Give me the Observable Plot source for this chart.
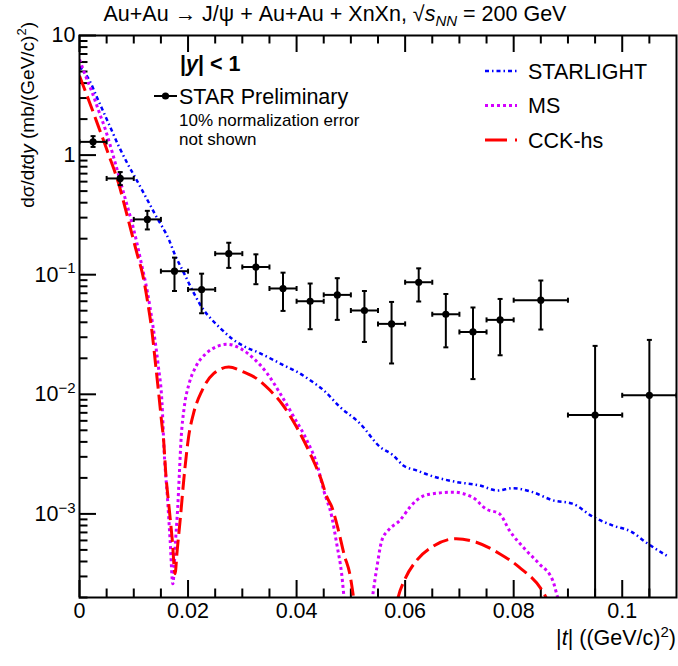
<!DOCTYPE html>
<html><head><meta charset="utf-8">
<script src="https://cdn.jsdelivr.net/npm/d3@7"></script>
<script src="https://cdn.jsdelivr.net/npm/@observablehq/plot@0.6"></script>
<style>
body{margin:0;background:#fff;}
#chart{width:678px;height:666px;}
</style></head><body><div id="chart"></div>
<script>
// ---------- data ----------
// STAR Preliminary points
const starT  = [0.0025,0.0075,0.0125,0.0175,0.0225,0.0275,0.0325,0.0375,0.0425,0.0475,0.0525,0.0575,0.0625,0.0675,0.0725,0.0775,0.085,0.095,0.105];
const starV  = [1.29,0.638,0.29,0.107,0.0752,0.150,0.116,0.0767,0.060,0.0678,0.0502,0.0388,0.0865,0.0467,0.0332,0.0419,0.0612,0.00671,0.00981];
const starHi = [1.44,0.721,0.342,0.139,0.102,0.185,0.148,0.104,0.0844,0.0935,0.0731,0.0592,0.113,0.069,0.0532,0.0627,0.0894,0.0254,0.0285];
const starLo = [1.17,0.561,0.239,0.0731,0.0476,0.114,0.0833,0.0498,0.035,0.0419,0.0274,0.0181,0.0597,0.0247,0.0134,0.0212,0.0348,1e-5,1e-5];
const starDt = [0.0025,0.0025,0.0025,0.0025,0.0025,0.0025,0.0025,0.0025,0.0025,0.0025,0.0025,0.0025,0.0025,0.0025,0.0025,0.0025,0.005,0.005,0.005];

// STARLIGHT curve
const slT = [0,0.0018,0.0033,0.0055,0.0073,0.0090,0.0102,0.0122,0.0140,0.0165,0.0175,0.0193,0.0211,0.0229,0.0242,0.0260,0.0281,0.0303,0.0327,0.0358,0.0376,0.0401,0.0425,0.0450,0.0480,0.0517,0.0554,0.0578,0.0596,0.0621,0.0651,0.0694,0.0737,0.0771,0.0798,0.0835,0.0872,0.0908,0.0945,0.0982,0.1018,0.1043,0.1086];
const slV = [5.5,4.24,2.98,1.78,1.17,0.824,0.658,0.448,0.315,0.195,0.150,0.102,0.0697,0.0505,0.043,0.0355,0.0292,0.0252,0.0226,0.0193,0.0175,0.0154,0.0131,0.0108,0.00783,0.00569,0.00362,0.00309,0.00255,0.00231,0.00206,0.00185,0.00173,0.00157,0.00164,0.00152,0.0013,0.00122,0.000953,0.000801,0.000705,0.000581,0.000436];

// MS curve
const msT = [0,0.0012,0.0024,0.0036,0.0048,0.0061,0.0073,0.0085,0.0097,0.0106,0.0113,0.0125,0.0135,0.0145,0.0152,0.0156,0.0162,0.0167,0.0172,0.0177,0.0181,0.0184,0.0187,0.0193,0.0202,0.0214,0.0233,0.0254,0.0272,0.0297,0.0321,0.0346,0.0370,0.0395,0.0419,0.0439,0.0450,0.0465,0.0474,0.0483,0.0490,0.0515,0.0535,0.0548,0.0557,0.0569,0.0590,0.0609,0.0621,0.0645,0.0688,0.0725,0.0749,0.0774,0.0792,0.0823,0.0847,0.0872,0.0881,0.0895];
const msV = [6.3,4.5,3.28,2.30,1.62,1.03,0.658,0.42,0.268,0.182,0.13,0.072,0.038,0.0175,0.0085,0.0033,0.00138,0.0006,0.00026,0.0006,0.00114,0.00217,0.0041,0.0078,0.0123,0.0169,0.0219,0.0252,0.0262,0.0241,0.0199,0.0149,0.0101,0.00646,0.00412,0.00247,0.00157,0.00094,0.00056,0.000316,0.00015,0.00003,0.00014,0.000359,0.0006,0.00073,0.00088,0.00114,0.0013,0.00146,0.00152,0.00137,0.0011,0.0010,0.00073,0.000495,0.000383,0.000277,0.0002,0.00012];

// CCK-hs curve
const cckT = [0,0.0017,0.0035,0.0053,0.0072,0.0090,0.0106,0.0116,0.0125,0.0134,0.0140,0.0146,0.0151,0.0155,0.0159,0.0165,0.0171,0.0176,0.0180,0.0186,0.0192,0.0201,0.0210,0.0226,0.0247,0.0275,0.0302,0.0327,0.0351,0.0375,0.0400,0.0425,0.0446,0.0456,0.0465,0.0477,0.0488,0.0498,0.0505,0.0510,0.0545,0.0580,0.0587,0.0600,0.0621,0.0651,0.0694,0.0731,0.0774,0.0810,0.0856,0.0870];
const cckV = [4.6,2.88,1.73,1.03,0.58,0.286,0.150,0.102,0.0612,0.0322,0.0181,0.0101,0.00606,0.00412,0.00217,0.00114,0.0006,0.000316,0.000495,0.00094,0.0019,0.0044,0.00689,0.0108,0.0149,0.0169,0.0154,0.0135,0.0108,0.0081,0.00532,0.00319,0.0019,0.00138,0.00114,0.00073,0.00045,0.000316,0.0002,0.00014,0.00003,0.00014,0.0002,0.000287,0.000408,0.000535,0.00062,0.00058,0.000465,0.000359,0.000215,0.00016];

// axis ticks
const xMajor = [0,0.02,0.04,0.06,0.08,0.1];
const xMinor = [0.005,0.01,0.015,0.025,0.03,0.035,0.045,0.05,0.055,0.065,0.07,0.075,0.085,0.09,0.095,0.105];
const yMajor = [10,1,0.1,0.01,0.001];
const yMinor = [0.0002,0.0003,0.0004,0.0005,0.0006,0.0007,0.0008,0.0009,
                0.002,0.003,0.004,0.005,0.006,0.007,0.008,0.009,
                0.02,0.03,0.04,0.05,0.06,0.07,0.08,0.09,
                0.2,0.3,0.4,0.5,0.6,0.7,0.8,0.9,
                2,3,4,5,6,7,8,9];

// ---------- build ----------
const FONT = '"Liberation Sans", Arial, Helvetica, sans-serif';
const W = 678, H = 666, mT = 35, mB = 69, mL = 79, mR = 2;
const fh = H - mT - mB, fw = W - mL - mR;
const majLen = 17, minLen = 8.5;

const pts = starT.map((t, i) => ({t, v: starV[i], hi: starHi[i], lo: starLo[i], dt: starDt[i]}));
const sl = slT.map((t, i) => ({t, v: slV[i]}));
const ms = msT.map((t, i) => ({t, v: msV[i]}));
const cck = cckT.map((t, i) => ({t, v: cckV[i]}));

const capH = {draw(ctx, size) { const r = Math.sqrt(size / Math.PI); ctx.moveTo(-r, 0); ctx.lineTo(r, 0); }};
const capV = {draw(ctx, size) { const r = Math.sqrt(size / Math.PI); ctx.moveTo(0, -r); ctx.lineTo(0, r); }};

const BLUE = "#0000ff", MAG = "#d400ff", RED = "#ff0000";
const slDash = "4,3,1.5,3", msDash = "3,3", cckDash = "16,6";

const plot = Plot.plot({
  width: W, height: H,
  marginTop: mT, marginBottom: mB, marginLeft: mL, marginRight: mR,
  style: {fontFamily: FONT, fontSize: "21.5px", background: "#fff", color: "#000"},
  x: {domain: [0, 0.11], label: null},
  y: {type: "log", domain: [2e-4, 10], label: null},
  marks: [
    Plot.axisX({ticks: xMajor, tickSize: 0, tickPadding: 5, tickFormat: d => String(d), fontSize: 21.5}),
    Plot.axisY({ticks: yMajor, tickSize: 0, tickPadding: 4, tickFormat: d => d >= 1 ? String(d) : "10^" + Math.round(Math.log10(d)), fontSize: 21.5}),
    // inner ticks
    Plot.ruleX(xMajor, {x: d => d, insetTop: fh - majLen, strokeWidth: 2}),
    Plot.ruleX(xMinor, {x: d => d, insetTop: fh - minLen, strokeWidth: 2}),
    Plot.ruleX(xMajor, {x: d => d, insetBottom: fh - majLen, strokeWidth: 2}),
    Plot.ruleX(xMinor, {x: d => d, insetBottom: fh - minLen, strokeWidth: 2}),
    Plot.ruleY(yMajor, {y: d => d, insetRight: fw - majLen, strokeWidth: 2}),
    Plot.ruleY(yMinor, {y: d => d, insetRight: fw - minLen, strokeWidth: 2}),
    // curves
    Plot.line(sl, {x: "t", y: "v", stroke: BLUE, strokeWidth: 2.5, strokeDasharray: slDash, strokeLinecap: "butt", curve: "monotone-x", clip: true}),
    Plot.line(ms, {x: "t", y: "v", stroke: MAG, strokeWidth: 3, strokeDasharray: msDash, strokeLinecap: "butt", curve: "monotone-x", clip: true}),
    Plot.line(cck, {x: "t", y: "v", stroke: RED, strokeWidth: 3, strokeDasharray: cckDash, strokeLinecap: "butt", curve: "monotone-x", clip: true}),
    // data error bars
    Plot.ruleX(pts, {x: "t", y1: "lo", y2: "hi", stroke: "#000", strokeWidth: 2, clip: true}),
    Plot.ruleY(pts, {y: "v", x1: d => d.t - d.dt, x2: d => d.t + d.dt, stroke: "#000", strokeWidth: 2, clip: true}),
    Plot.dot(pts, {x: "t", y: "hi", symbol: capH, r: 2.5, stroke: "#000", strokeWidth: 2, clip: true}),
    Plot.dot(pts, {x: "t", y: "lo", symbol: capH, r: 2.5, stroke: "#000", strokeWidth: 2, clip: true}),
    Plot.dot(pts, {x: d => d.t - d.dt, y: "v", symbol: capV, r: 2.5, stroke: "#000", strokeWidth: 2, clip: true}),
    Plot.dot(pts, {x: d => d.t + d.dt, y: "v", symbol: capV, r: 2.5, stroke: "#000", strokeWidth: 2, clip: true}),
    Plot.dot(pts, {x: "t", y: "v", r: 3.6, fill: "#000", stroke: "none"}),
    Plot.frame({stroke: "#000", strokeWidth: 2})
  ]
});
document.getElementById("chart").appendChild(plot);

// ---------- annotations ----------
const svg = d3.select(plot);
// superscript y tick labels
svg.selectAll('g[aria-label="y-axis tick label"] text').each(function() {
  const s = d3.select(this); const txt = s.text();
  if (txt.includes("^")) {
    const [b, e] = txt.split("^");
    s.text(null);
    s.append("tspan").text(b);
    s.append("tspan").attr("font-size", 15).attr("dy", "-0.55em").text(e.replace("-", "\u2212"));
  }
});

const ann = svg.append("g").attr("font-family", FONT).attr("fill", "#000").attr("text-anchor", "start");
// title
const title = ann.append("text").attr("x", 335).attr("y", 21).attr("text-anchor", "middle").attr("font-size", 21.5);
title.append("tspan").text("Au+Au \u2192 J/\u03C8 + Au+Au + XnXn, \u221A");
title.append("tspan").attr("font-style", "italic").text("s");
title.append("tspan").attr("font-style", "italic").attr("font-size", 15).attr("dy", 5).text("NN");
title.append("tspan").attr("dy", -5).text(" = 200 GeV");

// y axis title
const yt = ann.append("text").attr("transform", "translate(34,22) rotate(-90)").attr("text-anchor", "end").attr("font-size", 19);
yt.append("tspan").text("d\u03C3/d");
yt.append("tspan").attr("font-style", "italic").text("t");
yt.append("tspan").text("d");
yt.append("tspan").attr("font-style", "italic").text("y");
yt.append("tspan").text(" (mb/(GeV/c)");
yt.append("tspan").attr("font-size", 13).attr("dy", -8).text("2");
yt.append("tspan").attr("dy", 8).text(")");

// x axis title
const xt = ann.append("text").attr("x", 676).attr("y", 645).attr("text-anchor", "end").attr("font-size", 21.5);
xt.append("tspan").text("|");
xt.append("tspan").attr("font-style", "italic").text("t");
xt.append("tspan").text("| ((GeV/c)");
xt.append("tspan").attr("font-size", 15).attr("dy", -8).text("2");
xt.append("tspan").attr("dy", 8).text(")");

// left legend
const yl = ann.append("text").attr("x", 180).attr("y", 71).attr("font-size", 21.5).attr("font-weight", "bold").attr("text-anchor", "start");
yl.append("tspan").text("|");
yl.append("tspan").attr("font-style", "italic").text("y");
yl.append("tspan").text("| < 1");
ann.append("line").attr("x1", 154).attr("x2", 177).attr("y1", 96).attr("y2", 96).attr("stroke", "#000").attr("stroke-width", 2);
ann.append("circle").attr("cx", 165.5).attr("cy", 96).attr("r", 3.6).attr("fill", "#000");
ann.append("text").attr("x", 179).attr("y", 104).attr("font-size", 21.5).attr("text-anchor", "start").text("STAR Preliminary");
ann.append("text").attr("x", 179).attr("y", 126).attr("font-size", 17).attr("text-anchor", "start").text("10% normalization error");
ann.append("text").attr("x", 179).attr("y", 145).attr("font-size", 17).attr("text-anchor", "start").text("not shown");

// right legend
const legend = [
  {label: "STARLIGHT", color: BLUE, dash: slDash, w: 2.5, y: 71},
  {label: "MS", color: MAG, dash: msDash, w: 3, y: 105.5},
  {label: "CCK-hs", color: RED, dash: "22,8", w: 3, y: 140}
];
legend.forEach(l => {
  ann.append("line").attr("x1", 485).attr("x2", 517).attr("y1", l.y).attr("y2", l.y)
    .attr("stroke", l.color).attr("stroke-width", l.w).attr("stroke-dasharray", l.dash);
  ann.append("text").attr("x", 528).attr("y", l.y + 7.5).attr("font-size", 21.5).attr("text-anchor", "start").text(l.label);
});
</script>
</body></html>
